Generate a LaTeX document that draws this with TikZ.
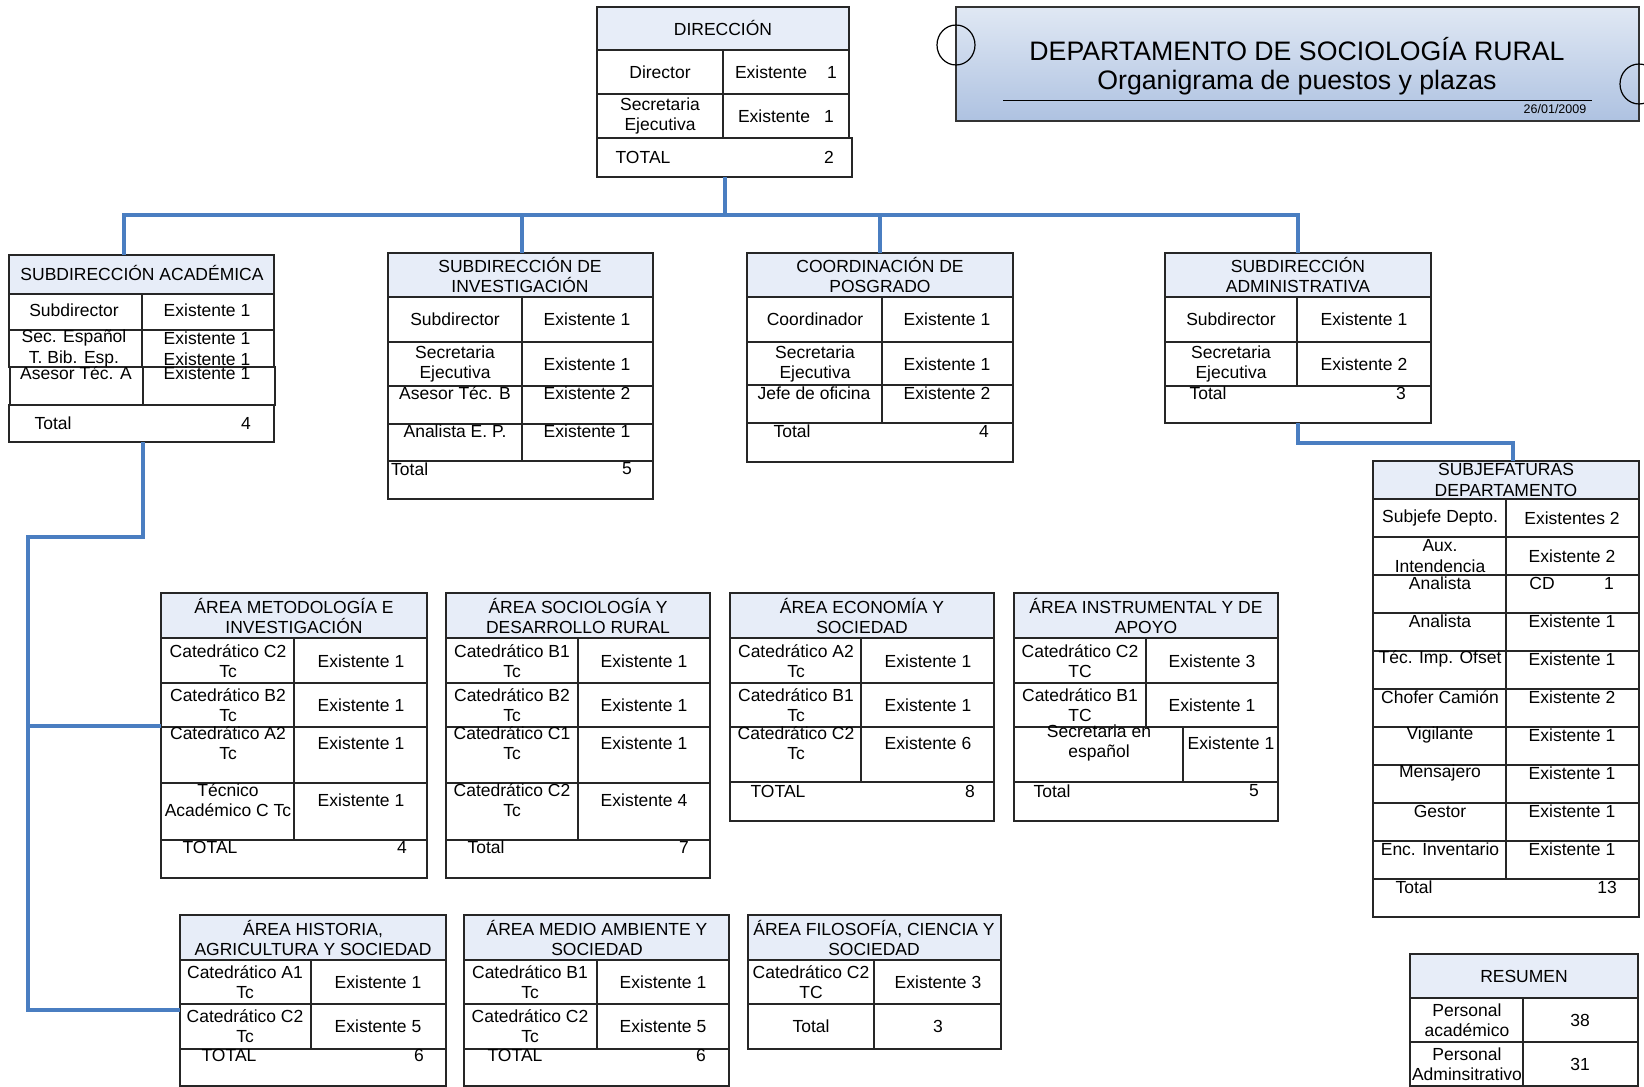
\documentclass[tikz,border=0pt]{standalone}
\usepackage{fontspec}
\setmainfont{Liberation Sans}
\definecolor{hdrblue}{RGB}{231,237,248}
\definecolor{linkblue}{RGB}{74,126,193}
\definecolor{titletop}{RGB}{224,232,244}
\definecolor{titlebot}{RGB}{174,194,225}
\begin{document}
\begin{tikzpicture}[x=1pt,y=-1pt,
  box/.style={draw=black!85,line width=1.1pt},
  hdr/.style={box,fill=hdrblue},
  txt/.style={inner sep=0pt,align=center,font=\fontsize{17.5}{20.5}\selectfont},
  link/.style={draw=linkblue,line width=3.2pt}]
\useasboundingbox (0,0) rectangle (1644,1087);
\fill[white] (0,0) rectangle (1644,1087);
% title
\shade[top color=titletop,bottom color=titlebot,draw=black!80,line width=1.3pt] (956,7) rectangle (1639,121);
\draw[line width=1.2pt] (956,45) ellipse [x radius=19pt,y radius=20pt];
\draw[line width=1.2pt] (1639,84) ellipse [x radius=19pt,y radius=20pt];
\node[inner sep=0pt,font=\fontsize{26.7}{30}\selectfont] (title-1) at (1297,49) {DEPARTAMENTO DE SOCIOLOGÍA RURAL};
\node[inner sep=0pt,font=\fontsize{26.7}{30}\selectfont] (title-2) at (1297,83) {Organigrama de puestos y plazas};
\draw[line width=1pt] (1003,100) -- (1592,100);
\node[inner sep=0pt,font=\fontsize{12.5}{14}\selectfont] (title-d) at (1555,109) {26/01/2009};
% direccion
\begin{scope}[shift={(597,7)}]
\draw[hdr] (0,0) rectangle (252,43);
\draw[box] (0,43) rectangle (252,87);
\draw[box] (0,87) rectangle (252,131);
\draw[box] (126,43) -- (126,131);
\draw[box] (0,131) rectangle (255,170);
\node[txt] (dir-h) at (126,21) {DIRECCIÓN};
\node[txt] (dir-1a) at (63,65) {Director};
\node[txt] (dir-1b) at (174,65) {Existente};
\node[txt] (dir-1c) at (235,65) {1};
\node[txt] (dir-2a) at (63,109) {Secretaria\\Ejecutiva};
\node[txt] (dir-2b) at (177,109) {Existente};
\node[txt] (dir-2c) at (232,109) {1};
\node[txt] (dir-t) at (46,150) {TOTAL};
\node[txt] (dir-tn) at (232,150) {2};
\coordinate (dir-s) at (128,170);
\end{scope}
% subdireccion academica
\begin{scope}[shift={(9,255)}]
\draw[hdr] (0,0) rectangle (265,39);
\draw[box] (0,39) rectangle (265,75);
\draw[box] (0,75) rectangle (265,112);
\draw[box] (133,39) -- (133,112);
\draw[box] (1,112) rectangle (266,150);
\draw[box] (134,112) -- (134,150);
\draw[box] (0,150) rectangle (265,187);
\node[txt] (acad-h) at (133,18) {SUBDIRECCIÓN ACADÉMICA};
\node[txt] (acad-1a) at (65,55) {Subdirector};
\node[txt] (acad-1b) at (198,55) {Existente 1};
\node[txt] (acad-2a) at (65,83) {Sec. Español};
\node[txt] (acad-2b) at (198,83) {Existente 1};
\node[txt] (acad-3a) at (65,104) {T. Bib. Esp.};
\node[txt] (acad-3b) at (198,104) {Existente 1};
\node[txt] (acad-4a) at (67,118) {Asesor Téc. A};
\node[txt] (acad-4b) at (198,118) {Existente 1};
\node[txt] (acad-t) at (44,168) {Total};
\node[txt] (acad-tn) at (237,168) {4};
\coordinate (acad-n) at (115,0);
\coordinate (acad-s) at (134,187);
\end{scope}
% subdireccion de investigacion
\begin{scope}[shift={(388,253)}]
\draw[hdr] (0,0) rectangle (265,44);
\draw[box] (0,44) rectangle (265,89);
\draw[box] (0,89) rectangle (265,133);
\draw[box] (0,133) rectangle (265,171);
\draw[box] (0,171) rectangle (265,208);
\draw[box] (134,44) -- (134,208);
\draw[box] (0,208) rectangle (265,246);
\node[txt] (inv-h) at (132,22) {SUBDIRECCIÓN DE\\INVESTIGACIÓN};
\node[txt] (inv-1a) at (67,66) {Subdirector};
\node[txt] (inv-1b) at (199,66) {Existente 1};
\node[txt] (inv-2a) at (67,111) {Secretaria\\Ejecutiva};
\node[txt] (inv-2b) at (199,111) {Existente 1};
\node[txt] (inv-3a) at (67,140) {Asesor Téc. B};
\node[txt] (inv-3b) at (199,140) {Existente 2};
\node[txt] (inv-4a) at (67,178) {Analista E. P.};
\node[txt] (inv-4b) at (199,178) {Existente 1};
\node[txt,anchor=west] (inv-t) at (3,216) {Total};
\node[txt] (inv-tn) at (239,216) {5};
\coordinate (inv-n) at (134,0);
\end{scope}
% coordinacion de posgrado
\begin{scope}[shift={(747,253)}]
\draw[hdr] (0,0) rectangle (266,44);
\draw[box] (0,44) rectangle (266,89);
\draw[box] (0,89) rectangle (266,132);
\draw[box] (0,132) rectangle (266,170);
\draw[box] (135,44) -- (135,170);
\draw[box] (0,170) rectangle (266,209);
\node[txt] (pos-h) at (133,22) {COORDINACIÓN DE\\POSGRADO};
\node[txt] (pos-1a) at (68,66) {Coordinador};
\node[txt] (pos-1b) at (200,66) {Existente 1};
\node[txt] (pos-2a) at (68,111) {Secretaria\\Ejecutiva};
\node[txt] (pos-2b) at (200,111) {Existente 1};
\node[txt] (pos-3a) at (67,140) {Jefe de oficina};
\node[txt] (pos-3b) at (200,140) {Existente 2};
\node[txt] (pos-t) at (45,178) {Total};
\node[txt] (pos-tn) at (237,178) {4};
\coordinate (pos-n) at (133,0);
\end{scope}
% subdireccion administrativa
\begin{scope}[shift={(1165,253)}]
\draw[hdr] (0,0) rectangle (266,44);
\draw[box] (0,44) rectangle (266,89);
\draw[box] (0,89) rectangle (266,133);
\draw[box] (132,44) -- (132,133);
\draw[box] (0,133) rectangle (266,170);
\node[txt] (adm-h) at (133,22) {SUBDIRECCIÓN\\ADMINISTRATIVA};
\node[txt] (adm-1a) at (66,66) {Subdirector};
\node[txt] (adm-1b) at (199,66) {Existente 1};
\node[txt] (adm-2a) at (66,111) {Secretaria\\Ejecutiva};
\node[txt] (adm-2b) at (199,111) {Existente 2};
\node[txt] (adm-t) at (43,140) {Total};
\node[txt] (adm-tn) at (236,140) {3};
\coordinate (adm-n) at (133,0);
\coordinate (adm-s) at (133,170);
\end{scope}
% subjefaturas
\begin{scope}[shift={(1373,461)}]
\draw[hdr] (0,0) rectangle (266,38);
\draw[box] (0,38) rectangle (266,76);
\draw[box] (0,76) rectangle (266,114);
\draw[box] (0,114) rectangle (266,152);
\draw[box] (0,152) rectangle (266,190);
\draw[box] (0,190) rectangle (266,228);
\draw[box] (0,228) rectangle (266,266);
\draw[box] (0,266) rectangle (266,304);
\draw[box] (0,304) rectangle (266,342);
\draw[box] (0,342) rectangle (266,380);
\draw[box] (0,380) rectangle (266,418);
\draw[box] (133,38) -- (133,418);
\draw[box] (0,418) rectangle (266,456);
\node[txt] (subj-h) at (133,19) {SUBJEFATURAS\\DEPARTAMENTO};
\node[txt] (subj-1a) at (67,57) {Subjefe Depto.};
\node[txt] (subj-1b) at (199,57) {Existentes 2};
\node[txt] (subj-2a) at (67,95) {Aux.\\Intendencia};
\node[txt] (subj-2b) at (199,95) {Existente 2};
\node[txt] (subj-3a) at (67,122) {Analista};
\node[txt] (subj-3b) at (169,122) {CD};
\node[txt] (subj-3c) at (236,122) {1};
\node[txt] (subj-4a) at (67,160) {Analista};
\node[txt] (subj-4b) at (199,160) {Existente 1};
\node[txt] (subj-5a) at (67,198) {Téc. Imp. Ofset};
\node[txt] (subj-5b) at (199,198) {Existente 1};
\node[txt] (subj-6a) at (67,236) {Chofer Camión};
\node[txt] (subj-6b) at (199,236) {Existente 2};
\node[txt] (subj-7a) at (67,274) {Vigilante};
\node[txt] (subj-7b) at (199,274) {Existente 1};
\node[txt] (subj-8a) at (67,312) {Mensajero};
\node[txt] (subj-8b) at (199,312) {Existente 1};
\node[txt] (subj-9a) at (67,350) {Gestor};
\node[txt] (subj-9b) at (199,350) {Existente 1};
\node[txt] (subj-10a) at (67,388) {Enc. Inventario};
\node[txt] (subj-10b) at (199,388) {Existente 1};
\node[txt] (subj-t) at (41,426) {Total};
\node[txt] (subj-tn) at (234,426) {13};
\coordinate (subj-n) at (140,0);
\end{scope}
% resumen
\begin{scope}[shift={(1410,954)}]
\draw[hdr] (0,0) rectangle (228,44);
\draw[box] (0,44) rectangle (228,88);
\draw[box] (0,88) rectangle (228,132);
\draw[box] (113,44) -- (113,132);
\node[txt] (res-h) at (114,22) {RESUMEN};
\node[txt] (res-1a) at (57,66) {Personal\\académico};
\node[txt] (res-1b) at (170,66) {38};
\node[txt] (res-2a) at (57,110) {Personal\\Adminsitrativo};
\node[txt] (res-2b) at (170,110) {31};
\end{scope}
% area metodologia
\begin{scope}[shift={(161,593)}]
\draw[hdr] (0,0) rectangle (266,45);
\draw[box] (0,45) rectangle (266,90);
\draw[box] (0,90) rectangle (266,134);
\draw[box] (0,134) rectangle (266,190);
\draw[box] (0,190) rectangle (266,247);
\draw[box] (133,45) -- (133,247);
\draw[box] (0,247) rectangle (266,285);
\node[txt] (met-h) at (133,23) {ÁREA METODOLOGÍA E\\INVESTIGACIÓN};
\node[txt] (met-1a) at (67,68) {Catedrático C2\\Tc};
\node[txt] (met-1b) at (200,68) {Existente 1};
\node[txt] (met-2a) at (67,112) {Catedrático B2\\Tc};
\node[txt] (met-2b) at (200,112) {Existente 1};
\node[txt] (met-3a) at (67,150) {Catedrático A2\\Tc};
\node[txt] (met-3b) at (200,150) {Existente 1};
\node[txt] (met-4a) at (67,207) {Técnico\\Académico C Tc};
\node[txt] (met-4b) at (200,207) {Existente 1};
\node[txt] (met-t) at (49,254) {TOTAL};
\node[txt] (met-tn) at (241,254) {4};
\coordinate (met-w) at (0,133);
\end{scope}
% area sociologia
\begin{scope}[shift={(446,593)}]
\draw[hdr] (0,0) rectangle (264,45);
\draw[box] (0,45) rectangle (264,90);
\draw[box] (0,90) rectangle (264,134);
\draw[box] (0,134) rectangle (264,190);
\draw[box] (0,190) rectangle (264,247);
\draw[box] (132,45) -- (132,247);
\draw[box] (0,247) rectangle (264,285);
\node[txt] (soc-h) at (132,23) {ÁREA SOCIOLOGÍA Y\\DESARROLLO RURAL};
\node[txt] (soc-1a) at (66,68) {Catedrático B1\\Tc};
\node[txt] (soc-1b) at (198,68) {Existente 1};
\node[txt] (soc-2a) at (66,112) {Catedrático B2\\Tc};
\node[txt] (soc-2b) at (198,112) {Existente 1};
\node[txt] (soc-3a) at (66,150) {Catedrático C1\\Tc};
\node[txt] (soc-3b) at (198,150) {Existente 1};
\node[txt] (soc-4a) at (66,207) {Catedrático C2\\Tc};
\node[txt] (soc-4b) at (198,207) {Existente 4};
\node[txt] (soc-t) at (40,254) {Total};
\node[txt] (soc-tn) at (238,254) {7};
\end{scope}
% area economia
\begin{scope}[shift={(730,593)}]
\draw[hdr] (0,0) rectangle (264,45);
\draw[box] (0,45) rectangle (264,90);
\draw[box] (0,90) rectangle (264,134);
\draw[box] (0,134) rectangle (264,189);
\draw[box] (131,45) -- (131,189);
\draw[box] (0,189) rectangle (264,228);
\node[txt] (eco-h) at (132,23) {ÁREA ECONOMÍA Y\\SOCIEDAD};
\node[txt] (eco-1a) at (66,68) {Catedrático A2\\Tc};
\node[txt] (eco-1b) at (198,68) {Existente 1};
\node[txt] (eco-2a) at (66,112) {Catedrático B1\\Tc};
\node[txt] (eco-2b) at (198,112) {Existente 1};
\node[txt] (eco-3a) at (66,150) {Catedrático C2\\Tc};
\node[txt] (eco-3b) at (198,150) {Existente 6};
\node[txt] (eco-t) at (48,198) {TOTAL};
\node[txt] (eco-tn) at (240,198) {8};
\end{scope}
% area instrumental
\begin{scope}[shift={(1014,593)}]
\draw[hdr] (0,0) rectangle (264,45);
\draw[box] (0,45) rectangle (264,90);
\draw[box] (0,90) rectangle (264,134);
\draw[box] (132,45) -- (132,134);
\draw[box] (0,134) rectangle (264,189);
\draw[box] (169,134) -- (169,189);
\draw[box] (0,189) rectangle (264,228);
\node[txt] (ins-h) at (132,23) {ÁREA INSTRUMENTAL Y DE\\APOYO};
\node[txt] (ins-1a) at (66,68) {Catedrático C2\\TC};
\node[txt] (ins-1b) at (198,68) {Existente 3};
\node[txt] (ins-2a) at (66,112) {Catedrático B1\\TC};
\node[txt] (ins-2b) at (198,112) {Existente 1};
\node[txt] (ins-3a) at (85,150) {Secretaria en\\español};
\node[txt] (ins-3b) at (217,150) {Existente 1};
\node[txt] (ins-t) at (38,198) {Total};
\node[txt] (ins-tn) at (240,198) {5};
\end{scope}
% area historia
\begin{scope}[shift={(180,915)}]
\draw[hdr] (0,0) rectangle (266,45);
\draw[box] (0,45) rectangle (266,89);
\draw[box] (0,89) rectangle (266,134);
\draw[box] (131,45) -- (131,134);
\draw[box] (0,134) rectangle (266,171);
\node[txt] (his-h) at (133,23) {ÁREA HISTORIA,\\AGRICULTURA Y SOCIEDAD};
\node[txt] (his-1a) at (65,67) {Catedrático A1\\Tc};
\node[txt] (his-1b) at (198,67) {Existente 1};
\node[txt] (his-2a) at (65,111) {Catedrático C2\\Tc};
\node[txt] (his-2b) at (198,111) {Existente 5};
\node[txt] (his-t) at (49,140) {TOTAL};
\node[txt] (his-tn) at (239,140) {6};
\coordinate (his-w) at (0,95);
\end{scope}
% area medio ambiente
\begin{scope}[shift={(464,915)}]
\draw[hdr] (0,0) rectangle (265,45);
\draw[box] (0,45) rectangle (265,89);
\draw[box] (0,89) rectangle (265,134);
\draw[box] (133,45) -- (133,134);
\draw[box] (0,134) rectangle (265,171);
\node[txt] (amb-h) at (133,23) {ÁREA MEDIO AMBIENTE Y\\SOCIEDAD};
\node[txt] (amb-1a) at (66,67) {Catedrático B1\\Tc};
\node[txt] (amb-1b) at (199,67) {Existente 1};
\node[txt] (amb-2a) at (66,111) {Catedrático C2\\Tc};
\node[txt] (amb-2b) at (199,111) {Existente 5};
\node[txt] (amb-t) at (51,140) {TOTAL};
\node[txt] (amb-tn) at (237,140) {6};
\end{scope}
% area filosofia
\begin{scope}[shift={(748,915)}]
\draw[hdr] (0,0) rectangle (253,45);
\draw[box] (0,45) rectangle (253,89);
\draw[box] (0,89) rectangle (253,134);
\draw[box] (126,45) -- (126,134);
\node[txt] (fil-h) at (126,23) {ÁREA FILOSOFÍA, CIENCIA Y\\SOCIEDAD};
\node[txt] (fil-1a) at (63,67) {Catedrático C2\\TC};
\node[txt] (fil-1b) at (190,67) {Existente 3};
\node[txt] (fil-2a) at (63,111) {Total};
\node[txt] (fil-2b) at (190,111) {3};
\end{scope}
% connectors
\coordinate (bus) at (725,215);
\coordinate (spine) at (28,537);
\draw[link] (dir-s) -- (bus);
\draw[link] (acad-n) |- (bus) -| (adm-n);
\draw[link] (inv-n) -- (inv-n |- bus);
\draw[link] (pos-n) -- (pos-n |- bus);
\draw[link] (adm-s) -- ++(0,20) -| (subj-n);
\draw[link] (acad-s) |- (spine) |- (his-w);
\draw[link] (spine |- met-w) -- (met-w);
\end{tikzpicture}
\end{document}
